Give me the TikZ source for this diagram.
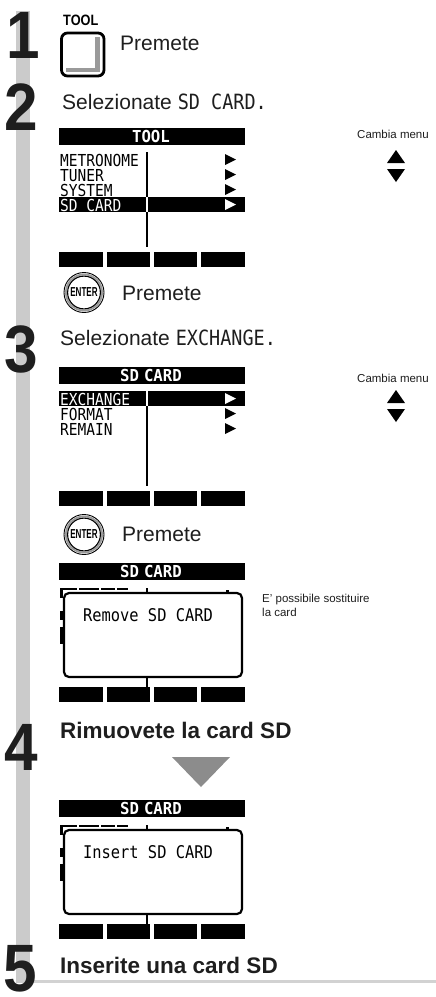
\documentclass[tikz,border=0pt]{standalone}
\usepackage{fontspec}
\setmainfont{Liberation Sans}
\newfontfamily\lcdfont[FakeStretch=0.88]{DejaVu Sans Mono}
\newfontfamily\lcdbfont[FakeStretch=0.95]{DejaVu Sans Mono}
\newfontfamily\condfont[FakeStretch=0.62]{Liberation Sans}
\newfontfamily\toolfont[FakeStretch=0.85]{Liberation Sans}
\newfontfamily\digfont[FakeStretch=0.9]{Liberation Sans}
\definecolor{barGray}{HTML}{CBCBCB}
\definecolor{lineGray}{HTML}{D2D2D2}
\definecolor{triGray}{HTML}{8C8C8C}
\definecolor{btnGray}{HTML}{9A9A9A}
\definecolor{ink}{HTML}{1E1E1E}
\tikzset{
  digit/.style={font=\digfont\bfseries\fontsize{67}{67}\selectfont, text=ink, inner sep=0, anchor=base},
  instr/.style={font=\fontsize{21}{21}\selectfont, text=ink, inner sep=0, anchor=base west},
  binstr/.style={font=\bfseries\fontsize{22.5}{22.5}\selectfont, text=ink, inner sep=0, anchor=base west},
  smalltxt/.style={font=\fontsize{11.5}{14}\selectfont, text=ink, inner sep=0},
  lcdtext/.style={font=\lcdfont\fontsize{16.5}{16.5}\selectfont, inner sep=0, anchor=base west},
  lcdtitle/.style={font=\lcdbfont\bfseries\fontsize{16.5}{16.5}\selectfont, text=white, inner sep=0, anchor=base},
  lcdline/.style={line width=1.2},
  entertxt/.style={font=\condfont\bfseries\fontsize{13}{13}\selectfont, inner sep=0},
  tooltxt/.style={font=\toolfont\bfseries\fontsize{15}{15}\selectfont, inner sep=0, anchor=base west},
}
% LCD header and soft-key bars: #1 top, #2 name, #3 title
\newcommand\lcdframe[3]{%
  \fill (59,#1) rectangle (245,#1+17);
  \node[lcdtitle] (#2) at (151,#1+14) {#3};
  \foreach \a/\b in {59/103,107/150,154/197,201/245}{\fill (\a,#1+124) rectangle (\b,#1+139);}
}
% right-pointing row arrow: #1 y centre, #2 colour
\newcommand\rowarrow[2]{\fill[#2] (225,#1-5.5) -- (236,#1) -- (225,#1+5.5) -- cycle;}
% popup screen: #1 top, #2 name, #3 text
\newcommand\popupscreen[3]{%
  \fill (60,#1+25) rectangle (63,#1+35);
  \draw[line width=1.6, dash pattern=on 14pt off 2pt on 20pt off 2pt] (63,#1+26) -- (128,#1+26);
  \draw[lcdline] (147,#1+25) -- (147,#1+31);
  \fill (226,#1+27) rectangle (228.5,#1+31);
  \fill (60,#1+48) rectangle (62.5,#1+57);
  \fill (60,#1+64) rectangle (62.5,#1+81);
  \draw[line width=2.2, rounded corners=5, fill=white] (64,#1+30) rectangle (242,#1+114);
  \draw[lcdline] (147,#1+114) -- (147,#1+124);
  \node[lcdtext, anchor=base, font=\lcdfont\fontsize{17.5}{17.5}\selectfont] (#2) at (148,#1+58) {#3};
}
% ENTER key: #1 centre, #2 name
\newcommand\enterkey[2]{%
  \draw[line width=0.9] #1 circle (20);
  \draw[line width=1.8, btnGray] #1 circle (18.1);
  \draw[line width=1.1] #1 circle (16.4);
  \node[entertxt] (#2) at #1 {ENTER};
}
\begin{document}
\begin{tikzpicture}[x=1pt,y=-1pt]
\useasboundingbox (0,0) rectangle (436,997);
% side bar and bottom rule
\fill[barGray] (16,11) rectangle (30,983);
\draw[lineGray, line width=3] (30,981.5) -- (436,981.5);
% step numbers
\node[digit] (d1) at (23,58) {1};
\node[digit] (d2) at (21,130) {2};
\node[digit] (d3) at (21,372) {3};
\node[digit] (d4) at (21.5,770) {4};
\node[digit] (d5) at (20,991) {5};

% ---- step 1
\node[tooltxt] (toolLbl) at (63,25.5) {TOOL};
\fill[btnGray] (95,37) rectangle (100,72);
\fill[btnGray] (66,67.5) rectangle (100,72);
\draw[line width=2.8, rounded corners=6] (61.5,33) rectangle (104,76);
\node[instr] (p1) at (120,50) {Premete};

% ---- step 2
\node[instr] (s2) at (62,109) {Selezionate {\lcdfont SD CARD.}};
\lcdframe{128}{h1}{TOOL}
\draw[lcdline] (147,152) -- (147,247);
\fill (59,197) rectangle (245,212);
\draw[lcdline, white] (147,197) -- (147,212);
\node[lcdtext] (m1) at (60,166) {METRONOME};
\node[lcdtext] (m2) at (60,181) {TUNER};
\node[lcdtext] (m3) at (60,196) {SYSTEM};
\node[lcdtext, text=white] (m4) at (60,211) {SD CARD};
\rowarrow{159.5}{black}
\rowarrow{174.5}{black}
\rowarrow{189.5}{black}
\rowarrow{204.5}{white}
\node[smalltxt] (cm1) at (393,134) {Cambia menu};
\fill (387,163) -- (405,163) -- (396,150) -- cycle;
\fill (387,169) -- (405,169) -- (396,182) -- cycle;
\enterkey{(84,292.5)}{ent1}
\node[instr] (p2) at (122,300) {Premete};

% ---- step 3
\node[instr] (s3) at (60,345) {Selezionate {\lcdfont EXCHANGE.}};
\lcdframe{367}{h2}{SD\hspace{5pt}CARD}
\draw[lcdline] (147,391) -- (147,486);
\fill (59,391) rectangle (245,406);
\draw[lcdline, white] (147,391) -- (147,406);
\node[lcdtext, text=white] (e1) at (60,405) {EXCHANGE};
\node[lcdtext] (e2) at (60,420) {FORMAT};
\node[lcdtext] (e3) at (60,435) {REMAIN};
\rowarrow{398.5}{white}
\rowarrow{413.5}{black}
\rowarrow{428.5}{black}
\node[smalltxt] (cm2) at (393,378) {Cambia menu};
\fill (387,403) -- (405,403) -- (396,390) -- cycle;
\fill (387,409) -- (405,409) -- (396,422) -- cycle;
\enterkey{(84,534.5)}{ent2}
\node[instr] (p3) at (122,541) {Premete};
\lcdframe{563}{h3}{SD\hspace{5pt}CARD}
\popupscreen{563}{pop1}{Remove SD CARD}
\node[smalltxt, anchor=base west] (note1) at (262,602) {E' possibile sostituire};
\node[smalltxt, anchor=base west] (note2) at (262,616) {la card};

% ---- step 4
\node[binstr] (s4) at (60,738) {Rimuovete la card SD};
\fill[triGray] (172,757) -- (230,757) -- (201,787) -- cycle;
\lcdframe{800}{h4}{SD\hspace{5pt}CARD}
\popupscreen{800}{pop2}{Insert SD CARD}

% ---- step 5
\node[binstr] (s5) at (60,973) {Inserite una card SD};
\end{tikzpicture}
\end{document}
